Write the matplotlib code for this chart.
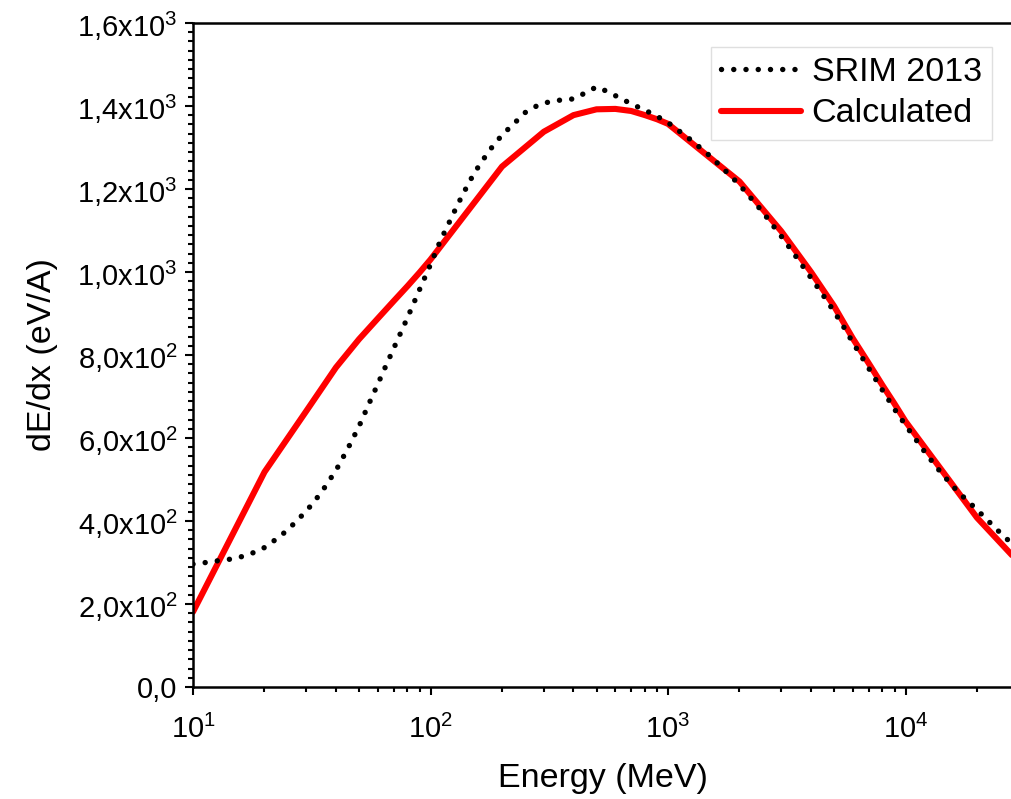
import matplotlib
matplotlib.use("Agg")
import matplotlib.pyplot as plt
from matplotlib.ticker import FixedLocator, AutoMinorLocator, LogLocator, NullFormatter
import numpy as np

plt.rcParams['font.family'] = ['Liberation Sans', 'DejaVu Sans']
plt.rcParams['mathtext.fontset'] = 'custom'
plt.rcParams['mathtext.rm'] = 'Liberation Sans'
plt.rcParams['mathtext.it'] = 'Liberation Sans'
plt.rcParams['mathtext.bf'] = 'Liberation Sans'

# SRIM 2013 data
srim_energy = [10, 11, 12, 13, 14, 15, 16, 17, 18, 20, 22.5, 25, 27.5, 30, 32.5, 35, 37.5,
               40, 45, 50, 55, 60, 65, 70, 80, 90, 100, 110, 120, 130, 140, 150, 160, 170,
               180, 200, 225, 250, 275, 300, 325, 350, 375, 400, 450, 500, 550, 600, 650,
               700, 800, 900, 1000, 1250, 1500, 1750, 2000, 2250, 2500, 2750, 3000, 3500,
               4000, 4500, 5000, 5500, 6000, 6500, 7000, 8000, 9000, 10000, 11000, 12000,
               13000, 14000, 15000, 16000, 17000, 18000, 20000, 22500, 25000, 27500, 30000]
srim_dedx = [296, 299, 302, 305, 307, 310, 314, 318, 324, 336, 357, 378, 402, 424, 448, 472, 498,
             522, 576, 628, 682, 730, 775, 816, 890, 958, 1018, 1075, 1120, 1162, 1198, 1230, 1256, 1278,
             1298, 1330, 1358, 1384, 1398, 1407, 1411, 1414, 1416, 1417, 1432, 1446, 1436, 1425, 1415,
             1405, 1390, 1375, 1360, 1318, 1280, 1243, 1210, 1176, 1145, 1114, 1086, 1033,
             986, 944, 905, 867, 830, 798, 768, 715, 669, 631, 598, 568, 542, 519, 499, 481, 465,
             452, 427, 398, 372, 350, 332]

# Calculated data
calc_energy = [10, 20, 30, 40, 50, 60, 70, 80, 90, 100, 200, 300, 400, 500, 600, 700, 800, 900,
               1000, 2000, 3000, 4000, 5000, 6000, 7000, 8000, 9000, 10000, 20000, 30000]
calc_dedx = [181, 518, 665, 770, 838, 888, 930, 966, 999, 1030, 1254, 1338, 1378, 1392, 1393, 1388,
             1378, 1368, 1357, 1218, 1098, 1000, 918, 840, 780, 727, 682, 640, 408, 300]

y_ticks = [0, 200, 400, 600, 800, 1000, 1200, 1400, 1600]
y_ticklabels = ['0,0', r'$\mathregular{2{,}0x10^{2}}$', r'$\mathregular{4{,}0x10^{2}}$',
                r'$\mathregular{6{,}0x10^{2}}$', r'$\mathregular{8{,}0x10^{2}}$',
                r'$\mathregular{1{,}0x10^{3}}$', r'$\mathregular{1{,}2x10^{3}}$',
                r'$\mathregular{1{,}4x10^{3}}$', r'$\mathregular{1{,}6x10^{3}}$']

W, H = 1012, 799
fig = plt.figure(figsize=(W / 100, H / 100), dpi=100)
left, bottom, top = 193 / W, 1 - 687 / H, 1 - 23 / H
ax = fig.add_axes([left, bottom, 1.0 - left, top - bottom])

ax.plot(srim_energy, srim_dedx, color='black', linewidth=3.9,
        linestyle=(0, (0.01, 2.25)), dash_capstyle='round', label='SRIM 2013', zorder=3)
ax.plot(calc_energy, calc_dedx, color='#ff0000', linewidth=4.4, label='Calculated',
        solid_capstyle='round', zorder=2)

ax.set_xscale('log')
xmax = 10 ** (1 + (W - 193) / 237.5)
ax.set_xlim(10, xmax)
ax.set_ylim(0, 1600)

ax.xaxis.set_major_locator(LogLocator(base=10, numticks=10))
ax.xaxis.set_minor_locator(LogLocator(base=10, subs=np.arange(2, 10), numticks=20))
ax.xaxis.set_minor_formatter(NullFormatter())

ax.yaxis.set_major_locator(FixedLocator(y_ticks))
ax.set_yticklabels(y_ticklabels)
ax.yaxis.set_minor_locator(AutoMinorLocator(9))

for s in ['left', 'bottom', 'top']:
    ax.spines[s].set_linewidth(1.8)
ax.spines['right'].set_visible(False)

ax.tick_params(which='major', direction='out', length=6, width=1.5, labelsize=21, pad=5)
ax.tick_params(which='minor', direction='out', length=3.8, width=1.5)
ax.tick_params(axis='x', which='major', pad=14)

ax.set_xlabel('Energy (MeV)', fontsize=24.5, labelpad=14)
ax.set_ylabel('dE/dx (eV/A)', fontsize=24.5, labelpad=14)

leg = ax.legend(loc='upper right', bbox_to_anchor=(992 / W, 1 - 47 / H),
                bbox_transform=fig.transFigure, fontsize=24.5, frameon=True,
                fancybox=False, edgecolor='#d8d8d8', handlelength=2.35,
                handletextpad=0.3, labelspacing=0.3, borderpad=0.3, borderaxespad=0)
leg.get_frame().set_linewidth(1.0)

fig.savefig('out.png', dpi=100)
